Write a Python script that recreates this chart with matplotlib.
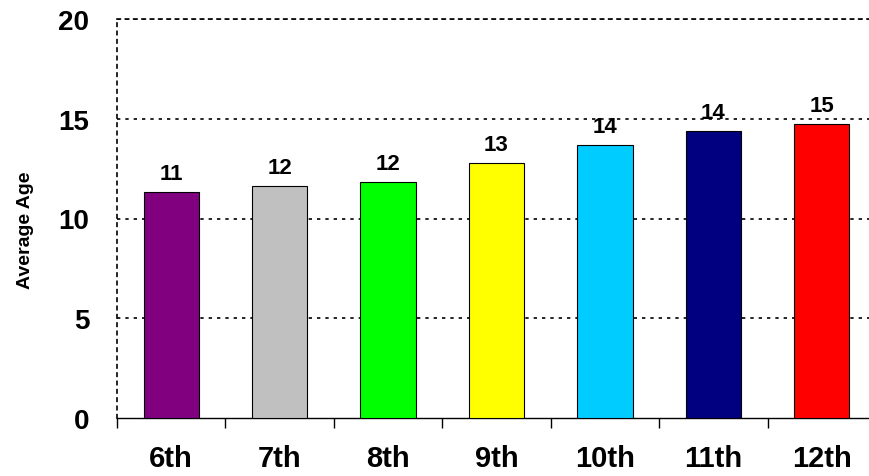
import matplotlib
matplotlib.use("Agg")
import matplotlib.pyplot as plt
import numpy as np

categories = ["6th", "7th", "8th", "9th", "10th", "11th", "12th"]
values = [11.33, 11.61, 11.83, 12.78, 13.68, 14.39, 14.74]
labels = ["11", "12", "12", "13", "14", "14", "15"]
colors = ["#800080", "#C0C0C0", "#00FF00", "#FFFF00", "#00CCFF", "#000080", "#FF0000"]
yticks = [0, 5, 10, 15, 20]

plt.rcParams['font.family'] = ['Liberation Sans', 'DejaVu Sans']
plt.rcParams['font.weight'] = 'bold'

fig = plt.figure(figsize=(8.69, 4.77), dpi=100)
W, H = 869, 477
left, right, top, bottom = 117, 876, 20, 419
ax = fig.add_axes([left / W, 1 - bottom / H, (right - left) / W, (bottom - top) / H])

x = np.arange(len(categories))
ax.bar(x, values, width=0.51, color=colors, edgecolor="black", linewidth=0.8, zorder=3)
for xi, v, lab in zip(x, values, labels):
    ax.annotate(lab, (xi, v), xytext=(0, 6), textcoords="offset points",
                ha="center", va="bottom", fontsize=16, fontweight="bold")

ax.set_xlim(-0.5, len(categories) - 0.5)
ax.set_ylim(0, 20)
ax.set_yticks(yticks)
ax.set_yticklabels([str(t) for t in yticks], fontsize=20, fontweight="bold")
ax.tick_params(axis="y", length=0, pad=20)
ax.set_xticks(x)
ax.set_xticklabels(categories, fontsize=21, fontweight="bold")
ax.set_xticks(np.arange(len(categories) + 1) - 0.5, minor=True)
ax.tick_params(axis="x", which="major", length=0, pad=19)
ax.tick_params(axis="x", which="minor", length=7, width=1, direction="out")

for yv in yticks[1:]:
    ax.axhline(yv, color="black", linestyle=(0, (2, 3)), linewidth=1.2, zorder=1)

for s in ["top", "left", "right"]:
    ax.spines[s].set_linestyle((0, (2, 3)))
    ax.spines[s].set_linewidth(1.2)
ax.spines["bottom"].set_linewidth(1.0)

fig.text(26 / W, 1 - 230 / H, "Average Age", rotation=90, ha="center", va="center",
         fontsize=14, fontweight="bold")

fig.savefig("out.png", dpi=100)
